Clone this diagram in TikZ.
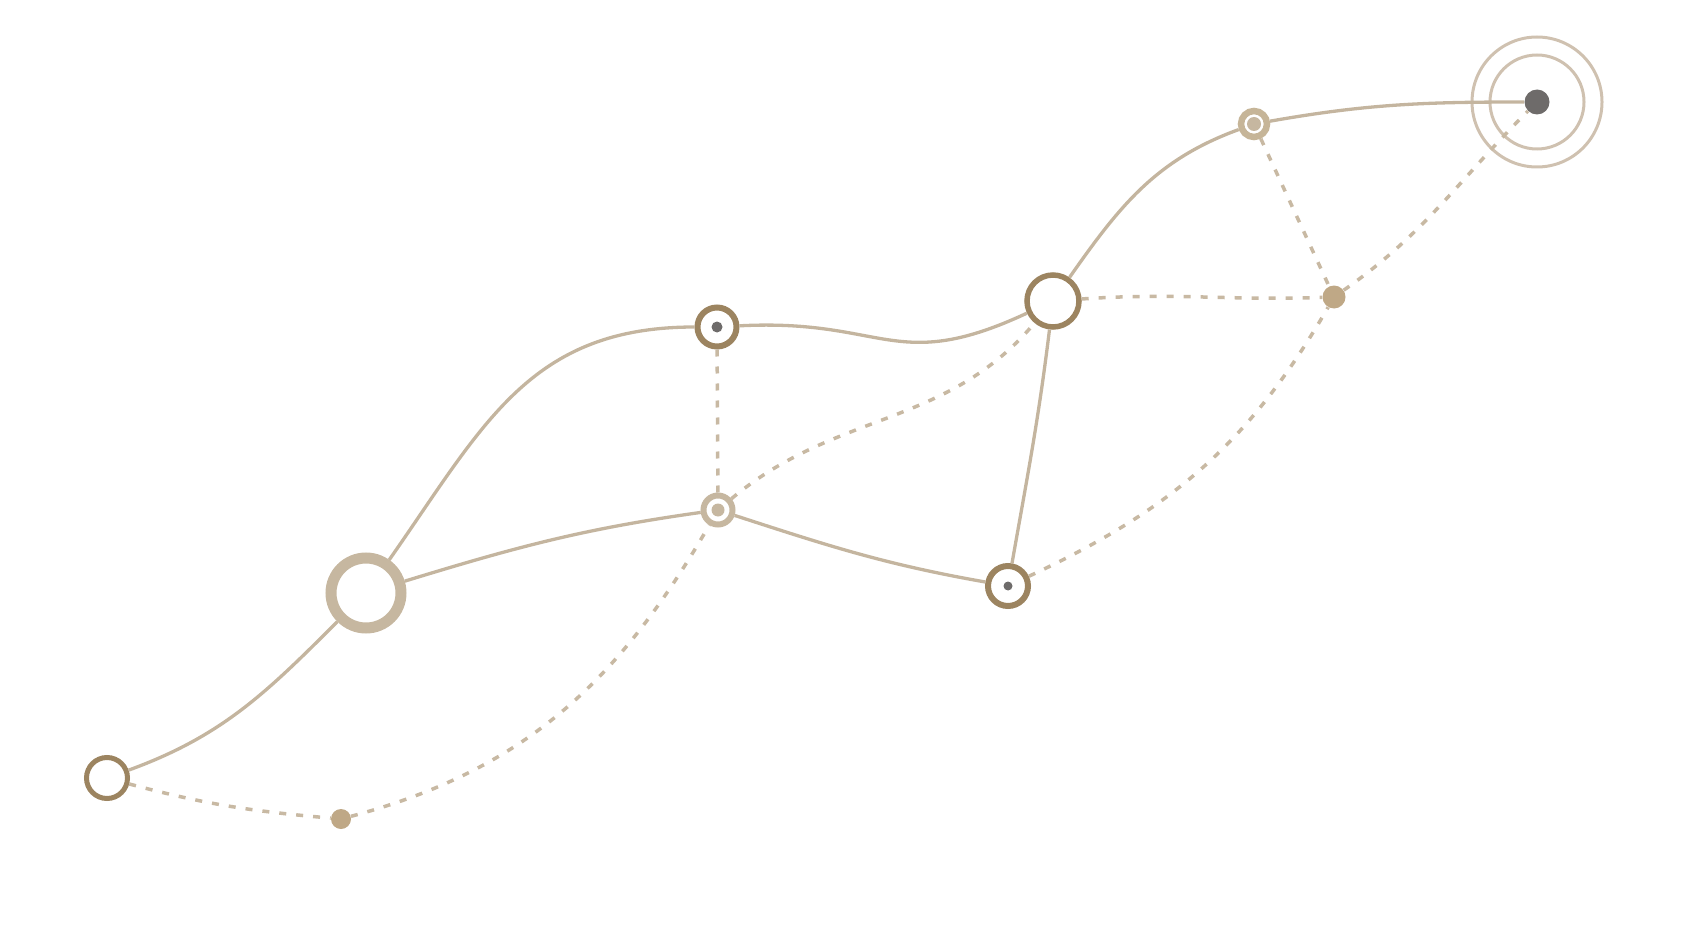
\documentclass[tikz,border=0pt]{standalone}
\usepackage{xcolor}
\usepackage{tikz}
\usetikzlibrary{arrows}
\usetikzlibrary{calc}
\usetikzlibrary{positioning}

\definecolor{ringbrown}{RGB}{156,132,96}
\definecolor{ringpale}{RGB}{198,183,160}
\definecolor{ringsoft}{RGB}{198,181,152}
\definecolor{halo}{RGB}{207,193,176}
\definecolor{linktan}{RGB}{196,181,159}
\definecolor{dashtan}{RGB}{200,185,163}
\definecolor{dotgrey}{RGB}{110,107,106}
\definecolor{dottan}{RGB}{191,168,134}

\begin{document}
\begin{tikzpicture}[-,x=1pt,y=1pt,semithick]
 \tikzstyle{ring}=[draw=ringbrown, circle, inner sep=0pt, line width=6pt]
 \tikzstyle{dot}=[circle, inner sep=0pt, fill=dotgrey]
 \tikzstyle{link}=[draw=linktan, line width=3.3pt]
 \tikzstyle{trail}=[draw=dashtan, line width=3.5pt, dash pattern=on 7pt off 10pt]
 \useasboundingbox (0,0) rectangle (1695,-928);
 % stations
 \node[ring, line width=5pt, minimum size=41pt]          (A) at (107,-778) {};
 \node[dot, fill=dottan, minimum size=20pt]              (B) at (341,-819) {};
 \node[ring, draw=ringpale, line width=11pt, minimum size=70pt] (C) at (366,-593) {};
 \node[ring, minimum size=39pt]                          (D) at (717,-327) {};
 \node[ring, draw=ringpale, minimum size=29pt]           (E) at (718,-510) {};
 \node[ring, minimum size=40pt]                          (F) at (1008,-586) {};
 \node[ring, line width=5.5pt, minimum size=52pt]        (G) at (1053,-301) {};
 \node[ring, draw=ringsoft, line width=6.5pt, minimum size=26pt] (H) at (1254,-124) {};
 \node[dot, fill=dottan, minimum size=23pt]              (I) at (1334,-297) {};
 \node[dot, minimum size=25pt]                           (J) at (1537,-102) {};
 % centres
 \node[dot, minimum size=11pt]             (Dc) at (D) {};
 \node[dot, fill=ringpale, minimum size=13pt] (Ec) at (E) {};
 \node[dot, minimum size=9pt]              (Fc) at (F) {};
 \node[dot, fill=ringpale, minimum size=14pt] (Hc) at (H) {};
 \node[circle, draw=halo, line width=3pt, minimum size=94pt]  (Jin)  at (J) {};
 \node[circle, draw=halo, line width=3pt, minimum size=130pt] (Jout) at (J) {};
 % solid links
 \path (A) edge[link, out=20, in=225] (C)
       (C) edge[link, out=55, in=180, looseness=1.1] (D)
       (C) edge[link, out=17, in=188] (E)
       (D) edge[link, out=3, in=205, looseness=1.3] (G)
       (E) edge[link, out=-18, in=170] (F)
       (G) edge[link, out=-97, in=80] (F)
       (G) edge[link, out=55, in=200] (H)
       (H) edge[link, out=10, in=180] (J);
 % dashed links
 \path (A) edge[trail, out=-15, in=175] (B)
       (B) edge[trail, out=15, in=240] (E)
       (D) edge[trail] (E)
       (E) edge[trail, out=40, in=230] (G)
       (G) edge[trail, out=4, in=182] (I)
       (H) edge[trail] (I)
       (I) edge[trail, out=35, in=225] (J)
       (F) edge[trail, out=25, in=240] (I);
\end{tikzpicture}
\end{document}
